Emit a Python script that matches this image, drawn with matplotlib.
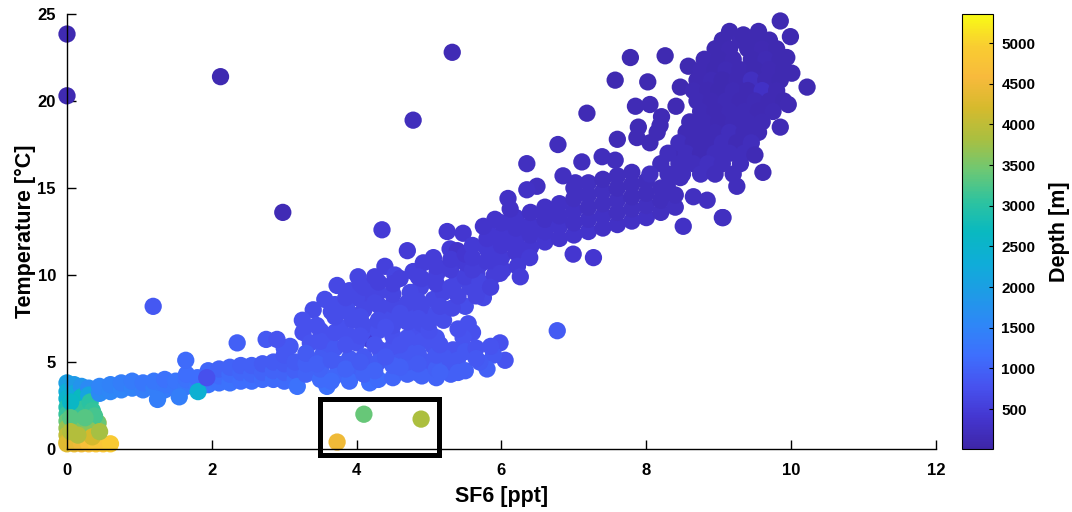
import matplotlib
matplotlib.use('Agg')
import matplotlib.pyplot as plt
from matplotlib.colors import LinearSegmentedColormap, Normalize
from matplotlib.patches import Rectangle
import numpy as np

# deep column near SF6 = 0
deep_sf6 = [0.0, 0.0, 0.0, 0.0, 0.0, 0.0, 0.0, 0.0, 0.0,
            0.1, 0.1, 0.1, 0.15, 0.1, 0.1, 0.1,
            0.2, 0.2, 0.22, 0.2, 0.25,
            0.3, 0.3, 0.32, 0.43, 0.42,
            0.0, 0.1, 0.2, 0.3, 0.4, 0.5, 0.6,
            0.35, 0.38, 0.3, 0.35, 0.05, 0.05, 0.05, 0.25, 0.15, 0.45]
deep_temp = [3.8, 3.3, 2.9, 2.4, 2.0, 1.6, 1.2, 0.8, 0.4,
             3.7, 3.2, 2.6, 2.07, 1.5, 1.0, 0.5,
             3.6, 3.0, 2.3, 1.2, 0.7,
             3.5, 3.1, 2.7, 1.5, 1.5,
             0.3, 0.3, 0.3, 0.3, 0.3, 0.3, 0.3,
             2.2, 1.9, 1.1, 0.7, 2.7, 1.8, 1.0, 1.8, 0.8, 1.0]
deep_depth = [2000, 2300, 2500, 2900, 3100, 3400, 3700, 4000, 4200,
              1900, 2200, 2800, 2500, 3400, 3700, 4000,
              1800, 2700, 3100, 3500, 3400,
              1600, 2100, 3000, 3700, 3400,
              4300, 4400, 4500, 4700, 4800, 4800, 4900,
              3100, 3200, 3600, 4200, 2600, 3300, 3900, 3300, 3900, 3800]

# intermediate-water band
band_sf6 = [0.45, 0.45, 0.6, 0.6, 0.75, 0.75, 0.9, 0.9, 1.05, 1.05, 1.2, 1.2,
            1.35, 1.35, 1.35, 1.5, 1.5, 1.65, 1.65, 1.65, 1.8, 1.8,
            1.95, 1.95, 1.95, 2.1, 2.1, 2.1, 2.25, 2.25, 2.25, 2.4, 2.4, 2.4,
            2.55, 2.55, 2.55, 2.7, 2.7, 2.7, 2.85, 2.85, 2.85,
            3.0, 3.0, 3.0, 3.0, 3.15, 3.15, 3.15,
            1.25, 1.55, 1.81, 1.64, 2.35, 1.93, 2.75, 3.0]
band_temp = [3.2, 3.6, 3.3, 3.7, 3.4, 3.8, 3.5, 3.9, 3.4, 3.8, 3.5, 3.9,
             3.4, 3.7, 4.0, 3.5, 3.9, 3.6, 4.0, 4.3, 3.6, 4.1,
             3.7, 4.1, 4.5, 3.8, 4.2, 4.6, 3.8, 4.3, 4.7, 3.9, 4.4, 4.8,
             3.9, 4.3, 4.8, 4.0, 4.4, 4.9, 4.0, 4.5, 5.0,
             3.9, 4.4, 4.9, 5.4, 4.0, 4.5, 5.0,
             2.85, 3.0, 3.3, 5.1, 6.1, 4.1, 6.3, 5.8]
band_depth = [1600, 1500, 1550, 1450, 1500, 1400, 1450, 1350, 1400, 1300, 1400, 1300,
              1350, 1300, 1200, 1300, 1250, 1300, 1200, 1150, 1250, 1150,
              1250, 1150, 1050, 1200, 1100, 1000, 1200, 1100, 1000, 1150, 1050, 950,
              1150, 1050, 950, 1100, 1000, 900, 1100, 1000, 900,
              1100, 1000, 900, 850, 1100, 950, 900,
              1400, 1400, 2400, 1100, 950, 750, 850, 850]

# mid-depth cloud
mid_sf6 = [4.02, 3.73, 3.56, 3.4, 3.25, 4.39, 4.53, 4.78, 4.92, 5.06, 5.29, 5.39,
           5.75, 5.5, 5.54, 5.6, 5.47, 5.33, 5.98, 6.05, 5.89, 5.8, 5.36, 5.1,
           4.97, 5.06, 5.2, 5.32, 5.06, 4.88, 4.74, 4.74, 4.83, 4.7, 4.18, 4.46,
           4.32, 4.18, 4.0, 3.87, 3.77, 3.63, 3.5, 3.26, 3.36, 3.08, 2.9, 3.95,
           4.09, 4.0, 4.32, 4.56, 4.18, 3.95, 3.73, 3.54, 4.18, 3.59, 3.18, 4.83,
           4.56, 5.39, 5.2, 5.66, 6.02, 5.94, 6.02, 5.8, 5.47, 5.25, 5.11, 5.39,
           5.2, 5.57, 4.7,
           3.3, 3.3, 3.3, 3.5, 3.5, 3.5, 3.5, 3.7, 3.7, 3.7, 3.7, 3.7,
           3.9, 3.9, 3.9, 3.9, 3.9, 4.1, 4.1, 4.1, 4.1, 4.1,
           4.3, 4.3, 4.3, 4.3, 4.3, 4.3, 4.5, 4.5, 4.5, 4.5, 4.5, 4.5, 4.5, 4.5,
           4.7, 4.7, 4.7, 4.7, 4.7, 4.7, 4.9, 4.9, 4.9, 4.9, 4.9,
           5.1, 5.1, 5.1, 5.1, 5.1, 5.1, 5.3, 5.3, 5.3, 5.3, 5.3,
           5.5, 5.5, 5.5, 5.5, 5.5, 5.7, 5.7, 5.7, 5.9, 5.9]
mid_temp = [9.9, 9.4, 8.6, 8.0, 7.4, 10.5, 10.0, 10.2, 10.7, 11.0, 11.5, 11.4,
            8.7, 8.2, 7.2, 6.7, 6.4, 5.7, 6.1, 5.1, 5.4, 4.6, 4.7, 4.1,
            5.0, 5.9, 7.4, 8.1, 8.6, 9.3, 9.0, 7.8, 6.8, 6.0, 6.3, 7.6,
            8.2, 8.7, 8.7, 8.0, 7.0, 6.4, 6.8, 6.7, 6.1, 5.9, 6.3, 7.4,
            6.8, 6.1, 5.7, 5.3, 4.7, 4.5, 4.9, 5.5, 3.8, 3.6, 3.6, 4.4,
            4.4, 5.1, 5.3, 10.1, 10.3, 11.4, 12.4, 12.6, 12.4, 12.5, 10.1, 9.7,
            9.0, 9.3, 11.4,
            4.3, 4.9, 5.5, 4.0, 4.6, 5.2, 6.2, 4.2, 5.8, 6.7, 7.6, 8.3,
            3.9, 5.2, 6.5, 7.8, 9.1, 4.3, 5.3, 7.1, 8.0, 9.3,
            4.0, 5.0, 6.8, 7.4, 9.0, 9.6, 4.1, 4.8, 5.9, 6.5, 7.1, 8.3, 8.9, 9.5,
            4.3, 5.0, 5.6, 6.4, 7.3, 8.4, 4.2, 6.2, 7.2, 8.0, 9.8,
            4.6, 5.4, 6.4, 7.8, 9.5, 10.5, 4.3, 5.0, 9.3, 10.3, 10.9,
            4.5, 5.6, 9.9, 10.7, 11.2, 5.0, 9.6, 10.6, 10.0, 10.8]
mid_depth = [600, 650, 700, 700, 750, 550, 600, 550, 500, 500, 450, 350,
             650, 700, 750, 750, 800, 800, 750, 800, 850, 950, 900, 1000,
             850, 800, 700, 650, 650, 600, 650, 700, 750, 800, 450, 700,
             650, 600, 650, 700, 750, 800, 750, 750, 800, 850, 800, 700,
             750, 800, 800, 850, 900, 950, 900, 850, 1150, 1200, 1200, 950,
             950, 850, 850, 550, 500, 450, 400, 400, 400, 400, 550, 600,
             600, 600, 450,
             1000, 950, 900, 1100, 1000, 900, 800, 1050, 850, 750, 700, 700,
             1100, 900, 750, 700, 650, 1000, 850, 700, 650, 600,
             1100, 900, 750, 700, 600, 550, 1050, 950, 800, 750, 700, 650, 600, 550,
             1000, 900, 850, 800, 700, 650, 1000, 800, 700, 650, 550,
             950, 850, 800, 700, 550, 500, 950, 850, 600, 500, 450,
             950, 850, 550, 450, 400, 900, 600, 500, 500, 450]

# extra samples filling the mid-depth cloud
mid2_sf6 = [3.45, 3.45, 3.65, 3.65, 3.65, 3.85, 3.85, 3.85, 4.05, 4.05, 4.05, 4.05,
            4.25, 4.25, 4.25, 4.25, 4.4, 4.4, 4.6, 4.6, 4.6, 4.6,
            4.85, 4.85, 4.85, 4.85, 4.85, 5.0, 5.0, 5.15, 5.15, 5.15,
            5.4, 5.4, 5.4, 5.65, 5.65, 5.65, 5.85, 5.85]
mid2_temp = [7.1, 4.9, 7.9, 5.1, 3.9, 8.7, 6.0, 4.6, 9.5, 7.6, 6.5, 5.0,
             9.9, 8.4, 6.0, 4.5, 7.0, 5.3, 9.8, 7.8, 6.0, 4.7,
             9.9, 8.5, 7.5, 5.5, 4.9, 6.8, 7.3, 8.2, 6.0, 4.4,
             6.9, 8.8, 4.4, 5.8, 8.8, 5.2, 9.3, 5.9]
mid2_depth = [750, 950, 700, 900, 1100, 650, 800, 1000, 600, 700, 750, 900,
              550, 650, 800, 1000, 750, 850, 550, 700, 800, 950,
              550, 650, 700, 850, 900, 750, 700, 650, 800, 1000,
              750, 600, 950, 800, 600, 850, 550, 800]

# upper thermocline trend
upper_sf6 = [5.6, 5.6, 5.6, 5.8, 5.8, 5.8, 6.0, 6.0, 6.0, 6.0, 6.2, 6.2, 6.2, 6.2,
             6.4, 6.4, 6.4, 6.4, 6.6, 6.6, 6.6, 6.6, 6.8, 6.8, 6.8, 6.8,
             7.0, 7.0, 7.0, 7.0, 7.0, 7.2, 7.2, 7.2, 7.2, 7.2,
             7.4, 7.4, 7.4, 7.4, 7.4, 7.6, 7.6, 7.6, 7.6, 7.6,
             7.8, 7.8, 7.8, 7.8, 7.8, 8.0, 8.0, 8.0, 8.0, 8.2, 8.2, 8.2, 8.4, 8.4,
             6.78, 6.35, 7.11, 7.39, 7.57, 7.6, 7.89, 8.19, 6.85, 7.02, 6.49, 6.35,
             6.09, 6.12, 5.91, 5.75, 6.99, 7.27, 6.39, 6.22, 5.98, 6.26, 8.51, 9.05,
             9.61, 9.25, 8.84, 8.65, 8.29, 8.47, 7.18, 7.78, 8.26, 7.57, 8.02, 7.85,
             8.05, 8.41, 8.21, 7.87, 8.58, 8.47, 8.15, 8.05, 8.37, 6.63]
upper_temp = [10.3, 11.0, 11.7, 10.8, 11.5, 12.1, 11.0, 11.7, 12.3, 13.0, 11.3, 12.0, 12.7, 13.3,
              11.6, 12.3, 12.9, 13.6, 11.9, 12.5, 13.2, 13.9, 12.1, 12.8, 13.4, 14.1,
              12.3, 13.0, 13.7, 14.4, 15.0, 12.5, 13.2, 13.9, 14.6, 15.3,
              12.7, 13.4, 14.1, 14.8, 15.5, 12.9, 13.6, 14.3, 15.0, 15.7,
              13.1, 13.8, 14.5, 15.2, 15.9, 13.3, 14.0, 14.7, 15.4, 13.6, 14.3, 15.0, 13.9, 14.6,
              17.5, 16.4, 16.5, 16.8, 16.6, 17.8, 18.5, 18.6, 15.7, 15.3, 15.1, 14.9,
              14.4, 13.8, 13.2, 12.8, 11.2, 11.0, 11.0, 10.5, 10.1, 9.9, 12.8, 13.3,
              15.9, 15.1, 14.3, 14.5, 15.1, 15.6, 19.3, 22.5, 22.6, 21.2, 21.1, 19.7,
              19.8, 19.7, 19.1, 17.9, 22.0, 20.8, 18.2, 17.6, 17.0, 13.6]
upper_depth = [500, 450, 450, 450, 450, 400, 450, 400, 400, 350, 400, 400, 350, 350,
               400, 350, 350, 300, 400, 350, 300, 300, 350, 350, 300, 300,
               350, 300, 300, 250, 250, 350, 300, 250, 250, 250,
               300, 300, 250, 250, 200, 300, 250, 250, 200, 200,
               300, 250, 200, 200, 200, 300, 250, 200, 200, 250, 200, 200, 250, 200,
               200, 250, 200, 200, 200, 150, 150, 150, 250, 250, 250, 300,
               300, 300, 350, 350, 400, 400, 450, 450, 500, 500, 300, 250,
               150, 200, 250, 250, 200, 200, 150, 100, 100, 100, 100, 150,
               150, 120, 150, 150, 100, 100, 150, 150, 150, 300]

# warm surface cluster
surf_sf6 = [9.15, 9.55,
            9.05, 9.3, 9.5, 9.7,
            8.95, 9.15, 9.4, 9.6, 9.8,
            8.8, 9.0, 9.2, 9.45, 9.65, 9.85,
            8.75, 8.95, 9.1, 9.3, 9.5, 9.7, 9.9,
            8.7, 8.9, 9.05, 9.25, 9.45, 9.65, 9.85,
            8.65, 8.85, 9.0, 9.2, 9.4, 9.6, 9.8,
            8.7, 8.9, 9.1, 9.3, 9.5, 9.7, 9.9,
            8.75, 8.95, 9.15, 9.35, 9.55, 9.75,
            8.6, 8.8, 9.0, 9.2, 9.4, 9.6,
            8.55, 8.75, 8.95, 9.15, 9.35, 9.55,
            8.45, 8.65, 8.85, 9.05, 9.25, 9.45,
            8.3, 8.55, 8.75, 8.95, 9.15, 9.35,
            8.2, 8.45, 8.65, 8.85, 9.05, 9.3,
            8.05, 8.3, 8.5, 8.75, 8.95, 9.2,
            9.85, 9.99, 9.34, 10.22, 10.01, 9.96, 9.85, 9.94, 9.5, 9.06]
surf_temp = [24.0, 24.0,
             23.5, 23.5, 23.5, 23.5,
             23.0, 23.0, 23.0, 23.0, 23.0,
             22.4, 22.4, 22.4, 22.4, 22.4, 22.4,
             21.8, 21.8, 21.8, 21.8, 21.8, 21.8, 21.8,
             21.2, 21.2, 21.2, 21.2, 21.2, 21.2, 21.2,
             20.6, 20.6, 20.6, 20.6, 20.6, 20.6, 20.6,
             20.0, 20.0, 20.0, 20.0, 20.0, 20.0, 20.0,
             19.4, 19.4, 19.4, 19.4, 19.4, 19.4,
             18.8, 18.8, 18.8, 18.8, 18.8, 18.8,
             18.2, 18.2, 18.2, 18.2, 18.2, 18.2,
             17.6, 17.6, 17.6, 17.6, 17.6, 17.6,
             17.0, 17.0, 17.0, 17.0, 17.0, 17.0,
             16.4, 16.4, 16.4, 16.4, 16.4, 16.4,
             15.8, 15.8, 15.8, 15.8, 15.8, 15.8,
             24.6, 23.7, 23.8, 20.8, 21.6, 19.8, 18.5, 22.5, 16.9, 13.3]
surf_depth = [100, 100,
              100, 120, 100, 100,
              100, 120, 100, 120, 100,
              120, 100, 120, 100, 150, 100,
              120, 100, 150, 120, 100, 120, 100,
              120, 150, 100, 120, 250, 120, 100,
              150, 120, 100, 150, 120, 300, 120,
              150, 120, 150, 120, 150, 120, 100,
              150, 120, 150, 150, 120, 150,
              150, 150, 120, 150, 150, 150,
              150, 150, 150, 200, 150, 150,
              200, 150, 150, 200, 150, 200,
              200, 200, 150, 200, 200, 200,
              200, 200, 200, 250, 200, 200,
              250, 200, 200, 250, 200, 200,
              100, 100, 100, 100, 100, 120, 150, 100, 150, 250]

# isolated samples
odd_sf6 = [0.0, 0.0, 2.12, 2.98, 5.32, 4.78, 4.35, 1.19, 6.77, 3.73, 4.1, 4.89]
odd_temp = [23.85, 20.3, 21.4, 13.6, 22.8, 18.9, 12.6, 8.2, 6.8, 0.4, 2.0, 1.72]
odd_depth = [100, 100, 100, 150, 150, 200, 450, 850, 900, 4500, 3400, 3850]

# parula-like colormap
parula_colors = ['#3e26a8', '#4436d0', '#4752ef', '#3e6ffd', '#2e87f7', '#1e9be6',
                 '#0fadd8', '#09b9c0', '#2fc39e', '#6ec873', '#aabf40', '#d6ba2d',
                 '#f8ba3c', '#f9cd31', '#f9fb15']
parula = LinearSegmentedColormap.from_list('parula', parula_colors)

sf6 = np.concatenate([deep_sf6, band_sf6, mid_sf6, mid2_sf6, upper_sf6, surf_sf6, odd_sf6])
temp = np.concatenate([deep_temp, band_temp, mid_temp, mid2_temp, upper_temp, surf_temp, odd_temp])
depth = np.concatenate([deep_depth, band_depth, mid_depth, mid2_depth, upper_depth, surf_depth, odd_depth])

plt.rcParams['font.family'] = ['Liberation Sans', 'DejaVu Sans']
plt.rcParams['font.weight'] = 'bold'

fig = plt.figure(figsize=(10.72, 5.12), dpi=100)
ax = fig.add_axes([0.0625, 0.123, 0.8106, 0.8496])
cax = fig.add_axes([0.8974, 0.123, 0.0289, 0.8496])

sc = ax.scatter(sf6, temp, c=depth, cmap=parula, norm=Normalize(8, 5357),
                s=155, linewidths=0, clip_on=False, zorder=2)

# box around the odd deep samples
ax.add_patch(Rectangle((3.49, -0.37), 1.65, 3.27, fill=False, edgecolor='black',
                       linewidth=3.6, clip_on=False, zorder=3))

ax.set_xlim(0, 12)
ax.set_ylim(0, 25)
ax.set_xticks(range(0, 13, 2))
ax.set_yticks(range(0, 26, 5))
for side in ['top', 'right']:
    ax.spines[side].set_visible(False)
for side in ['left', 'bottom']:
    ax.spines[side].set_linewidth(1.0)
ax.tick_params(direction='in', length=6.5, width=1.0, labelsize=12, pad=8)
ax.tick_params(axis='x', pad=10)
ax.set_xlabel('SF6 [ppt]', fontsize=15.5, fontweight='bold', labelpad=6)
ax.set_ylabel('Temperature [°C]', fontsize=15.5, fontweight='bold', labelpad=1)

cbar = fig.colorbar(sc, cax=cax)
cbar.set_ticks(range(500, 5001, 500))
cbar.ax.tick_params(direction='in', length=3, width=0.8, labelsize=11, pad=6)
cbar.outline.set_linewidth(0.8)
cbar.set_label('Depth [m]', fontsize=15.5, fontweight='bold', labelpad=10)

plt.savefig('out.png', dpi=100)
